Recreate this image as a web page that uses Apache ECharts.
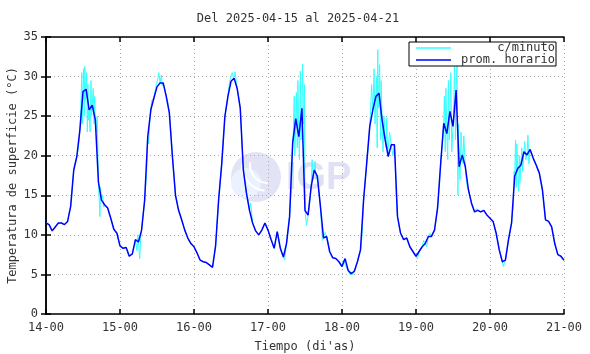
<!DOCTYPE html>
<html>
<head>
<meta charset="utf-8">
<script src="https://cdn.jsdelivr.net/npm/echarts@6/dist/echarts.min.js"></script>
<style>
  html, body { margin: 0; padding: 0; background: #fff; }
  #chart-container { width: 590px; height: 354px; }
</style>
</head>
<body>
<div id="chart-container"></div>
<script>
var dom = document.getElementById("chart-container");
var myChart = echarts.init(dom, null, { renderer: "canvas" });

// tick labels at each day start
var dayLabels = ["14-00", "15-00", "16-00", "17-00", "18-00", "19-00", "20-00", "21-00"];

// hourly mean (prom. horario), 24 values per day
var day14 = [11.5, 11.3, 10.5, 11.0, 11.5, 11.5, 11.3, 11.7, 13.6, 18.2, 19.9, 23.3, 28.1, 28.4, 25.8, 26.4, 24.5, 16.7, 14.4, 13.8, 13.4, 12.1, 10.7, 10.2];
var day15 = [8.6, 8.3, 8.4, 7.3, 7.6, 9.4, 9.1, 10.6, 14.4, 22.4, 25.8, 27.3, 28.7, 29.2, 29.2, 27.5, 25.4, 19.9, 15.0, 13.1, 11.9, 10.6, 9.6, 8.9];
var day16 = [8.5, 7.7, 6.8, 6.6, 6.5, 6.2, 5.9, 8.6, 14.5, 19.0, 24.9, 27.5, 29.4, 29.8, 28.5, 26.0, 18.2, 15.3, 13.1, 11.5, 10.5, 10.0, 10.6, 11.5];
var day17 = [10.6, 9.4, 8.3, 10.4, 8.3, 7.2, 8.9, 12.3, 21.6, 24.7, 22.4, 26.0, 13.1, 12.5, 16.1, 18.2, 17.4, 13.6, 9.6, 9.8, 7.9, 7.1, 7.0, 6.6];
var day18 = [6.0, 7.0, 5.5, 5.1, 5.4, 6.6, 8.1, 14.4, 19.0, 23.7, 25.8, 27.5, 27.9, 24.5, 22.0, 19.9, 21.4, 21.4, 12.3, 10.2, 9.4, 9.6, 8.5, 7.9];
var day19 = [7.3, 7.9, 8.5, 8.9, 9.8, 9.8, 10.6, 13.4, 19.0, 24.1, 22.8, 25.6, 23.7, 28.3, 18.6, 20.1, 18.6, 15.7, 14.0, 12.9, 13.1, 12.9, 13.1, 12.5];
var day20 = [12.1, 11.7, 10.2, 8.1, 6.6, 6.8, 9.4, 11.5, 17.4, 18.4, 18.8, 20.5, 20.1, 20.8, 19.7, 18.8, 17.8, 15.7, 11.9, 11.7, 11.0, 8.9, 7.5, 7.3];
var lastValue = 6.8; // 21-00

// per-minute excursions (c/minuto), [hour of day, value]
var spikes14 = [[10.5, 21], [11.3, 26], [11.6, 30.5], [11.8, 24], [12.2, 31], [12.4, 25], [12.6, 31.3], [12.8, 27], [13.2, 30.5], [13.4, 23], [13.6, 29], [13.8, 24.5], [14.3, 23], [14.6, 29.5], [14.8, 25], [15.3, 28.5], [15.6, 24], [15.8, 27.5], [16.3, 23], [16.6, 25], [17.5, 12.3], [17.7, 16], [18.4, 15], [18.7, 13.5]];
var spikes15 = [[5.5, 8.0], [5.8, 10], [6.4, 7.0], [6.7, 9.5], [8.7, 18.5], [9.3, 21.5], [9.6, 24], [10.3, 27], [11.5, 28.5], [12.3, 29.8], [12.6, 30.5], [13.4, 30.2], [13.7, 28.8], [15.5, 26.8], [16.5, 23]];
var spikes16 = [[5.5, 6.0], [6.4, 5.7], [11.6, 29.5], [12.4, 30.5], [12.8, 29.8], [13.3, 30.6], [13.6, 29.7], [14.4, 27.6], [18.4, 14]];
var spikes17 = [[4.5, 7.5], [5.4, 6.8], [7.6, 16], [8.2, 23], [8.5, 27.5], [8.7, 20], [9.2, 28], [9.5, 21], [9.7, 29.5], [10.2, 19.5], [10.5, 30.7], [10.7, 22], [11.2, 31.6], [11.5, 24], [11.8, 29], [12.5, 11.2], [13.5, 14], [14.3, 19.5], [14.7, 17], [15.3, 19.3], [15.6, 17], [17.6, 9.3], [18.5, 10.3], [23.5, 6.3]];
var spikes18 = [[0.5, 6.8], [1.5, 5.8], [2.5, 5.0], [3.5, 5.0], [6.5, 10], [8.5, 21], [9.3, 26], [9.6, 29], [10.2, 28], [10.4, 31], [10.7, 24], [11.2, 30], [11.4, 21], [11.6, 33.4], [11.8, 26], [12.2, 31.5], [12.5, 22], [12.7, 29.5], [13.3, 20.5], [13.6, 25], [14.3, 21], [14.5, 24.8], [14.8, 20], [15.4, 23], [16.5, 20], [17.3, 19.5], [17.6, 15]];
var spikes19 = [[0.5, 7.0], [2.5, 9.3], [3.5, 8.5], [4.5, 10.2], [8.5, 21.5], [9.2, 27.5], [9.5, 20.5], [9.7, 28.5], [10.3, 19.5], [10.5, 29.5], [10.8, 22], [11.3, 30.5], [11.6, 20.5], [12.3, 27], [12.5, 32.3], [12.8, 22], [13.3, 31.5], [13.6, 15], [13.8, 24], [14.3, 17], [14.6, 23], [15.2, 19], [15.5, 22.5], [16.4, 16.5], [19.5, 13.3], [21.5, 12.7]];
var spikes20 = [[4.3, 6.0], [4.7, 6.5], [7.6, 14], [7.8, 18], [8.3, 22], [8.5, 16], [8.7, 21.5], [9.3, 15.5], [9.5, 20], [9.7, 16.5], [10.3, 21], [10.6, 18], [11.3, 21.8], [11.6, 19.5], [12.3, 22.6], [12.6, 19], [13.4, 20.5]];

var hourlyDays = [day14, day15, day16, day17, day18, day19, day20];
var spikeDays = [spikes14, spikes15, spikes16, spikes17, spikes18, spikes19, spikes20];

var hourly = [];
var minute = [];
hourlyDays.forEach(function (vals, d) {
  vals.forEach(function (v, h) {
    hourly.push([d * 24 + h, v]);
    minute.push([d * 24 + h, v]);
  });
  spikeDays[d].forEach(function (p) {
    minute.push([d * 24 + p[0], p[1]]);
  });
});
hourly.push([168, lastValue]);
minute.push([168, lastValue]);
minute.sort(function (a, b) { return a[0] - b[0]; });

var font = "DejaVu Sans Mono";
var txt = "#333";

var option = {
  animation: false,
  title: {
    text: "Del 2025-04-15 al 2025-04-21",
    left: 293,
    textAlign: "center",
    top: 8,
    textStyle: { fontFamily: font, fontSize: 12, fontWeight: "normal", color: txt }
  },
  legend: {
    orient: "vertical",
    left: 409,
    top: 42,
    padding: [0, 1, 0, 7],
    itemGap: 0,
    itemWidth: 35,
    itemHeight: 1.5,
    icon: "rect",
    borderColor: "#000",
    borderWidth: 1,
    backgroundColor: "#fff",
    formatter: "{n|{name}}",
    textStyle: {
      fontFamily: font, fontSize: 12, color: txt,
      rich: { n: { width: 99, height: 12, align: "right", fontFamily: font, fontSize: 12, color: txt } }
    },
    data: ["c/minuto", "prom. horario"]
  },
  grid: { left: 46, right: 26, top: 37, bottom: 40, outerBoundsMode: "none" },
  graphic: [
    {
      type: "group", silent: true, z: 0,
      children: [
        { type: "circle", shape: { cx: 256, cy: 177, r: 25 }, style: { fill: "#e3e3f6" } },
        { type: "circle", shape: { cx: 246, cy: 183, r: 15 }, style: { fill: "#eaf2ff" } },
        { type: "arc", shape: { cx: 268, cy: 165, r: 18, startAngle: 1.6, endAngle: 3.3 }, style: { stroke: "#fff", lineWidth: 2, fill: null } },
        { type: "arc", shape: { cx: 268, cy: 165, r: 26, startAngle: 1.7, endAngle: 3.2 }, style: { stroke: "#fff", lineWidth: 2, fill: null } },
        { type: "text", left: 286, top: 160, style: { text: "IGP", font: "bold 38px Arial, Liberation Sans, sans-serif", fill: "#e0e0f5" } }
      ]
    }
  ],
  xAxis: [
    {
      type: "value", min: 0, max: 168, interval: 24,
      name: "Tiempo (di'as)", nameLocation: "middle", nameGap: 27,
      nameTextStyle: { fontFamily: font, fontSize: 12, color: txt },
      axisLine: { onZero: false, lineStyle: { color: "#000", width: 1.5 } },
      axisTick: { inside: true, length: 5, lineStyle: { color: "#000", width: 1.5 } },
      axisLabel: {
        fontFamily: font, fontSize: 12, color: txt, margin: 8,
        formatter: function (v) { return dayLabels[Math.round(v / 24)]; }
      },
      splitLine: { show: true, lineStyle: { color: "#aaa", type: [1, 3], width: 1 } }
    },
    {
      type: "value", min: 0, max: 168, interval: 24, position: "top",
      axisLine: { onZero: false, lineStyle: { color: "#000", width: 1.5 } },
      axisTick: { inside: true, length: 5, lineStyle: { color: "#000", width: 1.5 } },
      axisLabel: { show: false },
      splitLine: { show: false }
    }
  ],
  yAxis: [
    {
      type: "value", min: 0, max: 35, interval: 5,
      name: "Temperatura de superficie (°C)", nameLocation: "middle", nameGap: 27,
      nameMoveOverlap: false,
      nameTextStyle: { fontFamily: font, fontSize: 12, color: txt },
      axisLine: { show: true, lineStyle: { color: "#000", width: 1.5 } },
      axisTick: { show: true, inside: true, length: 5, lineStyle: { color: "#000", width: 1.5 } },
      axisLabel: { fontFamily: font, fontSize: 12, color: txt, margin: 8 },
      splitLine: { show: true, lineStyle: { color: "#aaa", type: [1, 3], width: 1 } }
    },
    {
      type: "value", min: 0, max: 35, interval: 5, position: "right",
      axisLine: { show: true, lineStyle: { color: "#000", width: 1.5 } },
      axisTick: { show: true, inside: true, length: 5, lineStyle: { color: "#000", width: 1.5 } },
      axisLabel: { show: false },
      splitLine: { show: false }
    }
  ],
  series: [
    {
      name: "c/minuto",
      type: "line",
      data: minute,
      showSymbol: false,
      symbol: "none",
      z: 3,
      lineStyle: { color: "#33ffff", width: 1 },
      itemStyle: { color: "#33ffff" }
    },
    {
      name: "prom. horario",
      type: "line",
      data: hourly,
      showSymbol: false,
      symbol: "none",
      z: 4,
      lineStyle: { color: "#0000ff", width: 1.5 },
      itemStyle: { color: "#0000ff" }
    }
  ]
};

myChart.setOption(option);
window.addEventListener("resize", myChart.resize);
</script>
</body>
</html>
